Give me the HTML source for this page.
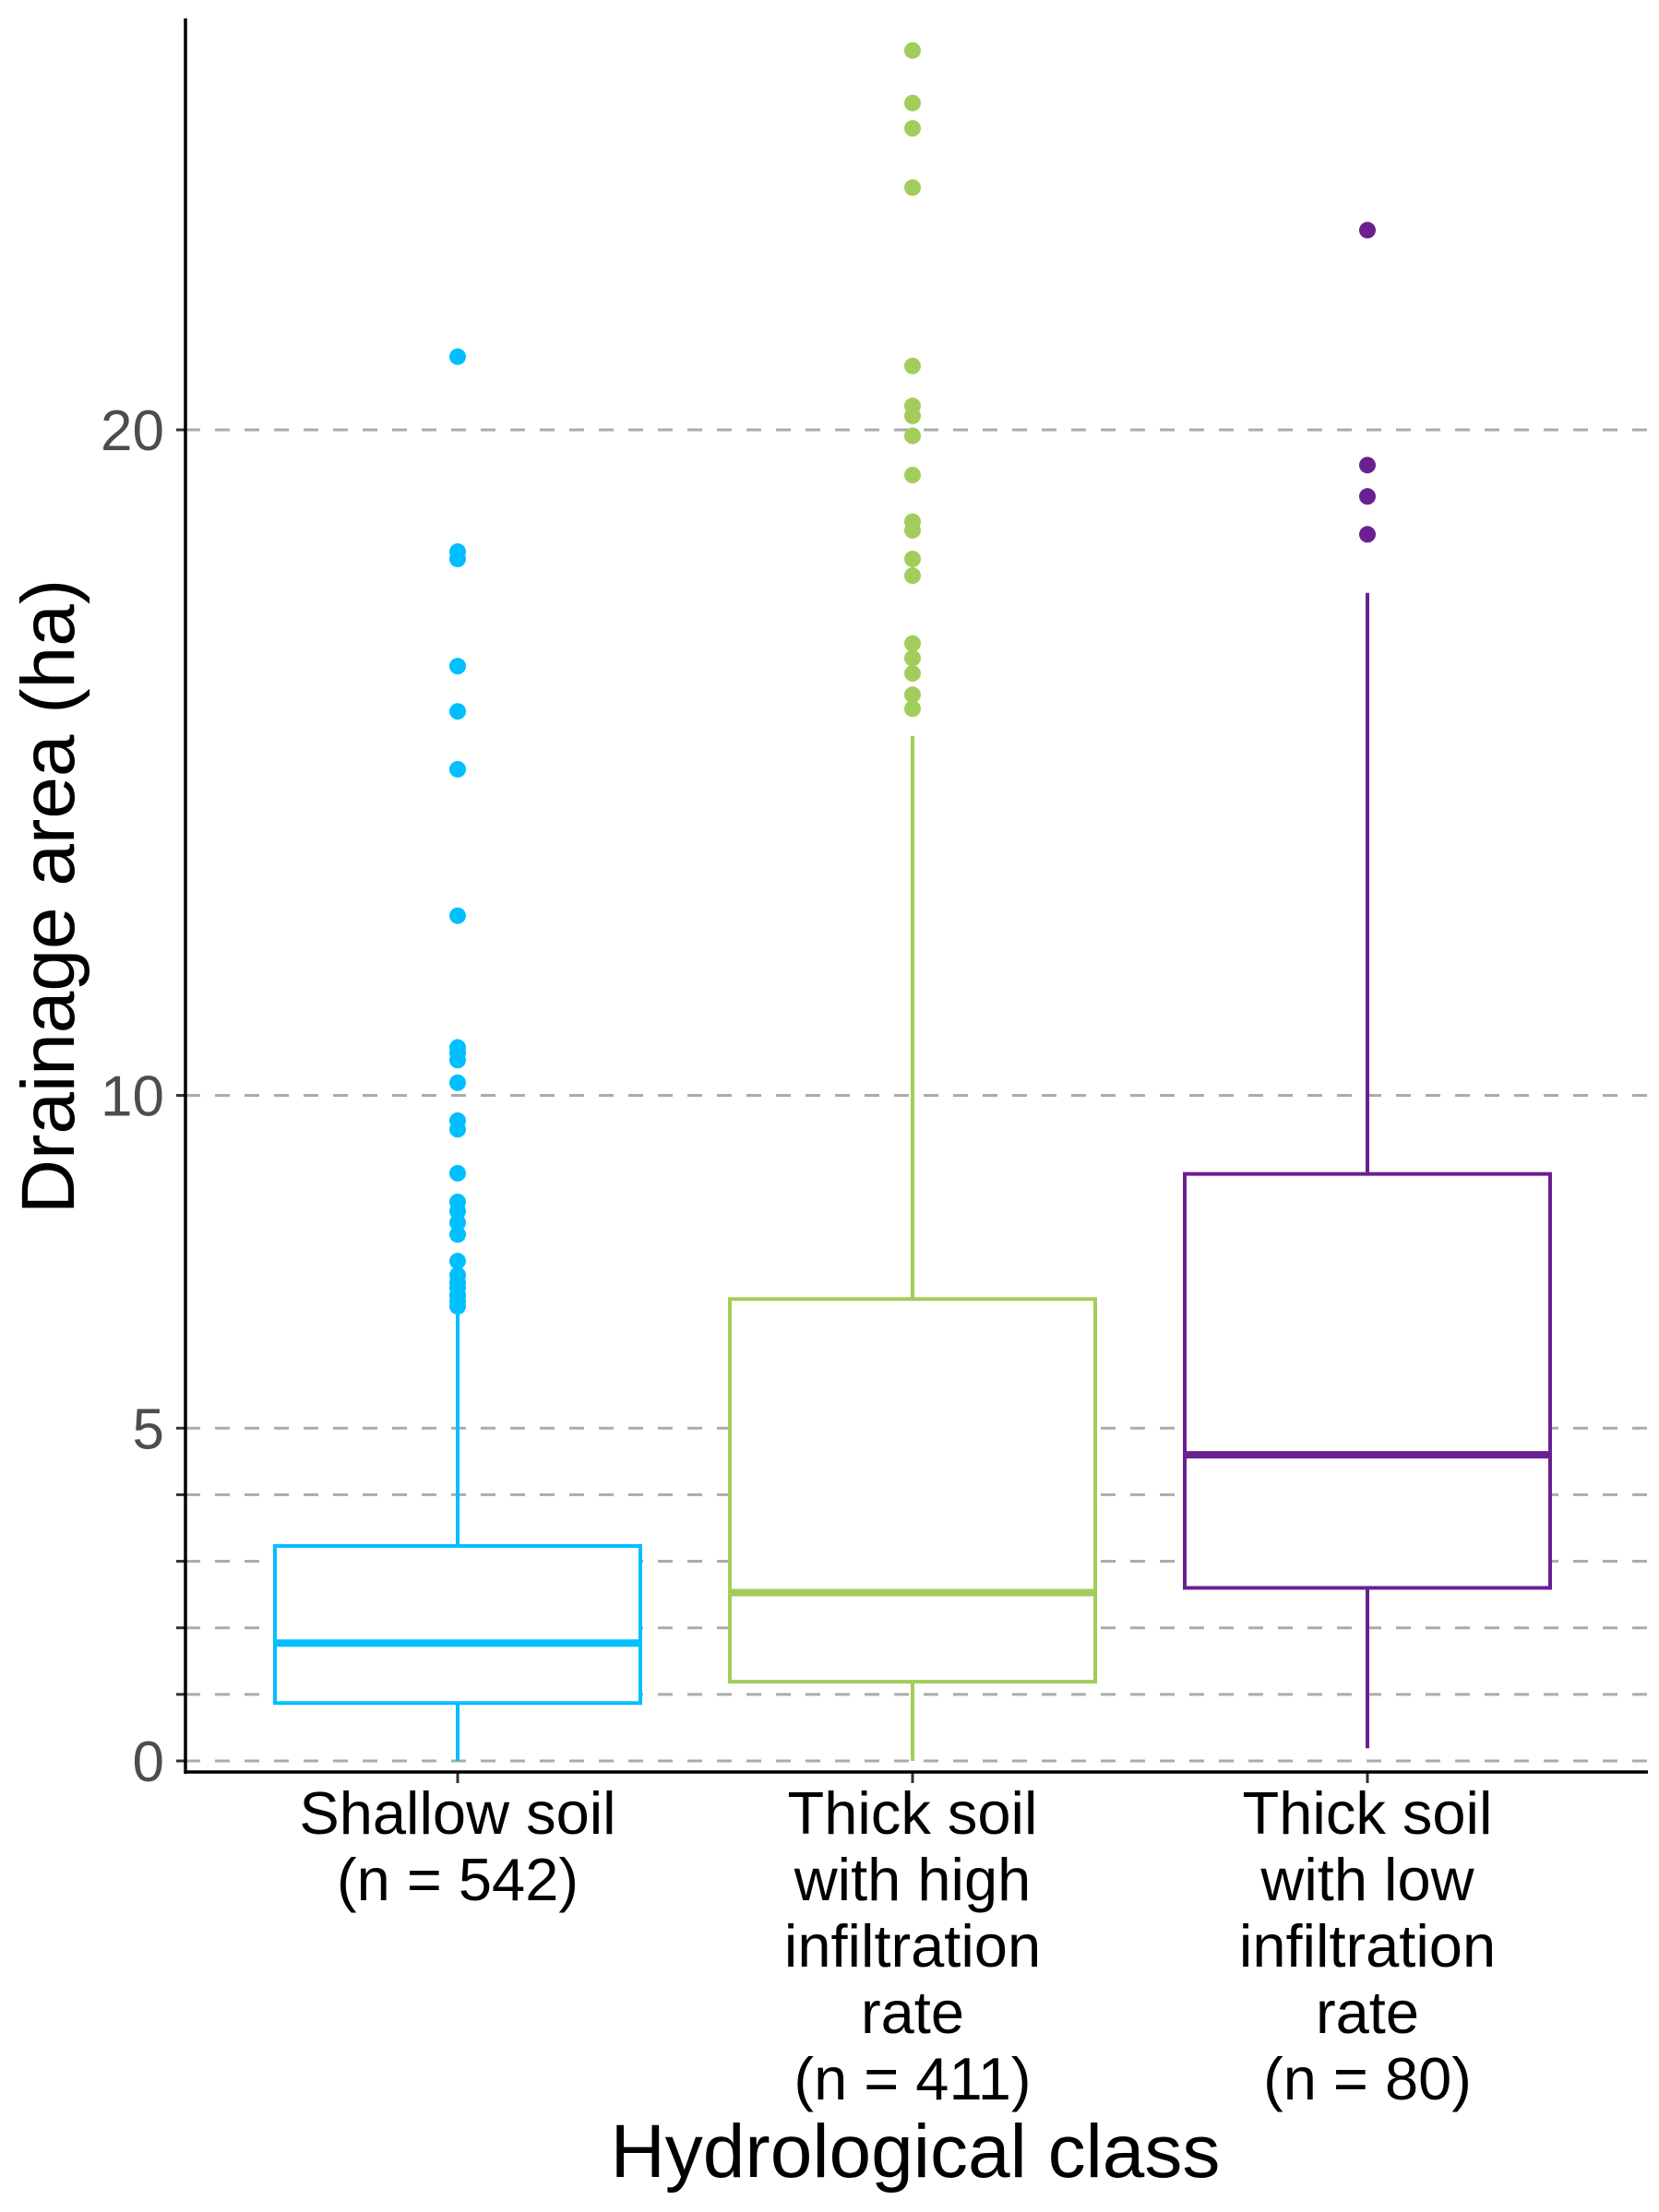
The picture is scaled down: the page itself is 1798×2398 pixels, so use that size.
<!DOCTYPE html>
<html><head><meta charset="utf-8">
<style>
html,body{margin:0;padding:0;background:#fff;}
svg{display:block;}
text{font-family:"Liberation Sans",sans-serif;}
</style></head>
<body>
<svg id="chart" xmlns="http://www.w3.org/2000/svg" width="1798" height="2398" viewBox="0 0 1798 2398">
<rect width="1798" height="2398" fill="#fff"/>
<g id="grid"></g>
<g id="boxes"></g>
<g id="axes"></g>
<text transform="translate(80,972) rotate(-90)" text-anchor="middle" font-size="82" fill="#000">Drainage area (ha)</text>
<text x="992" y="2360" text-anchor="middle" font-size="82" fill="#000">Hydrological class</text>
</svg>
<script>
const categories = ["Shallow soil|(n = 542)", "Thick soil|with high|infiltration|rate|(n = 411)", "Thick soil|with low|infiltration|rate|(n = 80)"];
const colors = ["#00BFFF", "#A2CD5A", "#6A2091"];
const q1 = [0.87, 1.19, 2.6];
const medians = [1.77, 2.53, 4.6];
const q3 = [3.23, 6.94, 8.82];
const whiskLow = [0, 0, 0.19];
const whiskHigh = [6.83, 15.4, 17.55];
const outliersShallow = [21.1, 18.17, 18.06, 16.45, 15.77, 14.9, 12.7, 10.72, 10.64, 10.53, 10.19, 9.62, 9.49, 8.83, 8.4, 8.26, 8.09, 7.91, 7.51, 7.3, 7.19, 7.11, 7.0, 6.91, 6.83];
const outliersHigh = [25.7, 24.91, 24.53, 23.64, 20.96, 20.36, 20.21, 19.91, 19.32, 18.62, 18.49, 18.06, 17.81, 16.79, 16.57, 16.34, 16.02, 15.81];
const outliersLow = [23.0, 19.47, 19.0, 18.43];
const gridValues = [0, 1, 2, 3, 4, 5, 10, 20];
const tickLabels = ["0", "5", "10", "20"];
const tickValues = [0, 5, 10, 20];

const NS = "http://www.w3.org/2000/svg";
const X0 = 201, X1 = 1786, Y0 = 1909, PX = 72.15;
const yScale = v => Y0 - v * PX;
const xScale = i => 496 + i * 493;
const HW = 198;
function mk(tag, attrs, parent){ const e=document.createElementNS(NS,tag); for(const k in attrs) e.setAttribute(k,attrs[k]); parent.appendChild(e); return e; }
const grid=document.getElementById('grid'), boxes=document.getElementById('boxes'), axes=document.getElementById('axes');

gridValues.forEach(v=>{
  const l = mk('line',{x1:X0,x2:X1,y1:yScale(v),y2:yScale(v),stroke:'#ababab','stroke-width':3,'stroke-dasharray':'16 16'},grid);
  
  
  const t = mk('line',{x1:X0-10,x2:X0,y1:yScale(v),y2:yScale(v),stroke:'#333','stroke-width':3},axes);
  
  
});
tickValues.forEach((v,i)=>{
  const t = mk('text',{x:178,y:yScale(v)+22,'text-anchor':'end','font-size':62,fill:'#4d4d4d'},axes);
  t.textContent = tickLabels[i];
  
  
});

const outliers=[outliersShallow,outliersHigh,outliersLow];
categories.forEach((c,i)=>{
  const cx=xScale(i), col=colors[i];
  const g=mk('g',{},boxes);
  
  
  mk('line',{x1:cx,x2:cx,y1:yScale(whiskHigh[i]),y2:yScale(q3[i]),stroke:col,'stroke-width':4},g);
  mk('line',{x1:cx,x2:cx,y1:yScale(q1[i]),y2:yScale(whiskLow[i]),stroke:col,'stroke-width':4},g);
  const r=mk('rect',{x:cx-HW,y:yScale(q3[i]),width:2*HW,height:yScale(q1[i])-yScale(q3[i]),fill:'#fff',stroke:col,'stroke-width':4},g);
  
  
  const m=mk('line',{x1:cx-HW,x2:cx+HW,y1:yScale(medians[i]),y2:yScale(medians[i]),stroke:col,'stroke-width':8},g);
  
  
  outliers[i].forEach(v=>{
    const p=mk('circle',{cx:cx,cy:yScale(v),r:9,fill:col},g);
    
    
  });
  const tk=mk('line',{x1:cx,x2:cx,y1:1921,y2:1933,stroke:'#333','stroke-width':3},axes);
  
  
  c.split('|').forEach((ln,j)=>{
    const t=mk('text',{x:cx,y:1988+j*72,'text-anchor':'middle','font-size':65,fill:'#000'},axes);
    t.textContent=ln;
    
    
  });
});
const ya=mk('line',{x1:X0,x2:X0,y1:20,y2:1923,stroke:'#000','stroke-width':3.5},axes);


const xa=mk('line',{x1:X0-1.5,x2:X1,y1:1921,y2:1921,stroke:'#000','stroke-width':3.5},axes);


</script>
</body></html>
